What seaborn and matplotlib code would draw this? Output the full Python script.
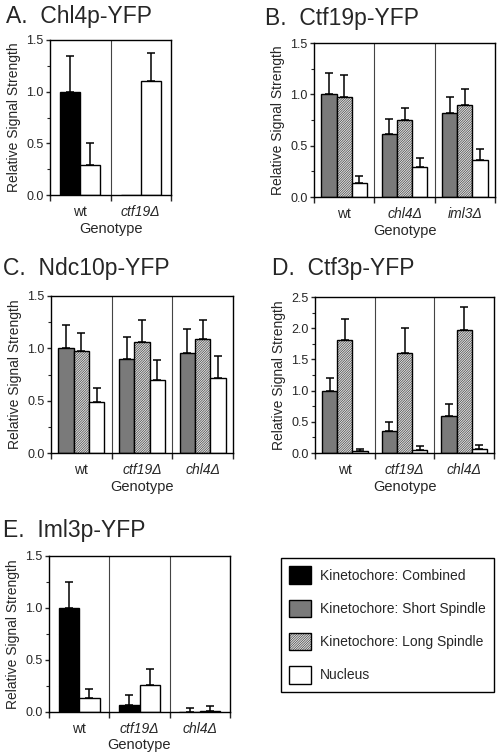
import pandas as pd
import matplotlib
matplotlib.use("Agg")
import matplotlib.pyplot as plt
from matplotlib.patches import Patch
from matplotlib.ticker import MultipleLocator, FixedLocator, FormatStrFormatter
import seaborn as sns

# datos (media y error hacia arriba)
geno_a = ["wt", "ctf19Δ"]
chl4_comb = [1.00, 0.00]
chl4_comb_err = [0.35, 0.0]
chl4_nuc = [0.29, 1.10]
chl4_nuc_err = [0.21, 0.27]

geno_b = ["wt", "chl4Δ", "iml3Δ"]
ctf19_short = [1.00, 0.61, 0.82]
ctf19_short_err = [0.21, 0.15, 0.15]
ctf19_long = [0.97, 0.75, 0.90]
ctf19_long_err = [0.22, 0.12, 0.15]
ctf19_nuc = [0.14, 0.29, 0.36]
ctf19_nuc_err = [0.06, 0.09, 0.11]

geno_c = ["wt", "ctf19Δ", "chl4Δ"]
ndc10_short = [1.00, 0.90, 0.96]
ndc10_short_err = [0.22, 0.21, 0.22]
ndc10_long = [0.975, 1.065, 1.085]
ndc10_long_err = [0.175, 0.205, 0.185]
ndc10_nuc = [0.485, 0.70, 0.72]
ndc10_nuc_err = [0.14, 0.185, 0.205]

geno_d = ["wt", "ctf19Δ", "chl4Δ"]
ctf3_short = [1.00, 0.36, 0.585]
ctf3_short_err = [0.20, 0.14, 0.195]
ctf3_long = [1.815, 1.61, 1.975]
ctf3_long_err = [0.33, 0.39, 0.36]
ctf3_nuc = [0.03, 0.055, 0.07]
ctf3_nuc_err = [0.03, 0.06, 0.06]

geno_e = ["wt", "ctf19Δ", "chl4Δ"]
iml3_comb = [1.00, 0.067, 0.0]
iml3_comb_err = [0.25, 0.10, 0.035]
iml3_nuc = [0.137, 0.262, 0.01]
iml3_nuc_err = [0.085, 0.153, 0.045]

COMB = "Kinetochore: Combined"
SHORT = "Kinetochore: Short Spindle"
LONG = "Kinetochore: Long Spindle"
NUC = "Nucleus"
colores = {COMB: "black", SHORT: "#7a7a7a", LONG: "#dadada", NUC: "white"}
TRAMA = "/" * 14

sns.set_theme(style="ticks")
plt.rcParams["font.family"] = ["Liberation Sans", "DejaVu Sans"]
plt.rcParams["hatch.linewidth"] = 0.3
plt.rcParams["axes.linewidth"] = 1.0

W, H = 501, 755
fig = plt.figure(figsize=(W / 100, H / 100), dpi=100)


def rect(l, r, t, b):
    # convierte pixeles (origen arriba) a coordenadas de figura
    return [l / W, 1 - b / H, (r - l) / W, (b - t) / H]


def panel(caja, titulo, tpos, genos, series, ymax, ancho):
    ax = fig.add_axes(rect(*caja))
    filas = []
    for nombre, vals, errs in series:
        for g, v, e in zip(genos, vals, errs):
            filas.append({"genotipo": g, "serie": nombre, "valor": v, "err": e})
    df = pd.DataFrame(filas)
    orden = [s[0] for s in series]
    sns.barplot(data=df, x="genotipo", y="valor", hue="serie", hue_order=orden,
                order=genos, palette=colores, saturation=1, width=ancho,
                edgecolor="black", linewidth=1.0, errorbar=None, legend=False, ax=ax)
    for cont, (nombre, vals, errs) in zip(ax.containers, series):
        for barra, v, e in zip(cont, vals, errs):
            if nombre == LONG:
                barra.set_hatch(TRAMA)
            if e > 0:
                xc = barra.get_x() + barra.get_width() / 2
                ax.errorbar(xc, v, yerr=[[0], [e]], fmt="none", ecolor="black",
                            elinewidth=1.1, capsize=2.6, capthick=1.1, zorder=1)
    n = len(genos)
    ax.set_xlim(-0.5, n - 0.5)
    ax.set_ylim(0, ymax)
    for k in range(1, n):
        ax.axvline(k - 0.5, color="#444444", lw=0.8)
    ax.yaxis.set_major_locator(MultipleLocator(0.5))
    ax.yaxis.set_minor_locator(MultipleLocator(0.25))
    ax.yaxis.set_major_formatter(FormatStrFormatter("%.1f"))
    ax.xaxis.set_minor_locator(FixedLocator([k - 0.5 for k in range(n + 1)]))
    ax.tick_params(axis="x", which="major", length=0, pad=7, labelsize=10)
    ax.tick_params(axis="x", which="minor", length=4, width=1.0)
    ax.tick_params(axis="y", which="major", length=3, width=1.0, labelsize=9, pad=1.5)
    ax.tick_params(axis="y", which="minor", length=2, width=0.8)
    for lab in ax.get_xticklabels():
        if lab.get_text() != "wt":
            lab.set_style("italic")
    for s in ax.spines.values():
        s.set_visible(True)
        s.set_color("black")
    ax.set_xlabel("Genotype", fontsize=10.5, labelpad=2)
    ax.set_ylabel("Relative Signal Strength", fontsize=10, labelpad=4)
    fig.text(tpos[0] / W, 1 - tpos[1] / H, titulo, fontsize=16.5, ha="left", va="center")
    return ax


panel((50, 171, 40, 195), "A.  Chl4p-YFP", (6, 17), geno_a,
      [(COMB, chl4_comb, chl4_comb_err), (NUC, chl4_nuc, chl4_nuc_err)], 1.5, 0.66)
panel((314, 495, 43, 197), "B.  Ctf19p-YFP", (265, 18), geno_b,
      [(SHORT, ctf19_short, ctf19_short_err), (LONG, ctf19_long, ctf19_long_err),
       (NUC, ctf19_nuc, ctf19_nuc_err)], 1.5, 0.76)
panel((51, 233, 296, 453), "C.  Ndc10p-YFP", (3, 269), geno_c,
      [(SHORT, ndc10_short, ndc10_short_err), (LONG, ndc10_long, ndc10_long_err),
       (NUC, ndc10_nuc, ndc10_nuc_err)], 1.5, 0.76)
panel((315, 494, 297, 453), "D.  Ctf3p-YFP", (272, 269), geno_d,
      [(SHORT, ctf3_short, ctf3_short_err), (LONG, ctf3_long, ctf3_long_err),
       (NUC, ctf3_nuc, ctf3_nuc_err)], 2.5, 0.76)
panel((49, 230, 556, 712), "E.  Iml3p-YFP", (3, 530), geno_e,
      [(COMB, iml3_comb, iml3_comb_err), (NUC, iml3_nuc, iml3_nuc_err)], 1.5, 0.68)

# leyenda comun
manejadores = []
for nombre in [COMB, SHORT, LONG, NUC]:
    p = Patch(facecolor=colores[nombre], edgecolor="black", linewidth=1.0,
              hatch=TRAMA if nombre == LONG else None, label=nombre)
    manejadores.append(p)
ley = fig.legend(handles=manejadores, loc="upper left", bbox_to_anchor=(281 / W, 1 - 558 / H),
                 borderaxespad=0, fontsize=10, handlelength=1.58, handleheight=1.58,
                 labelspacing=1.12, handletextpad=0.65, borderpad=0.6, fancybox=False,
                 framealpha=1, edgecolor="black")
ley.get_frame().set_linewidth(1.0)

fig.savefig("out.png", dpi=100)
